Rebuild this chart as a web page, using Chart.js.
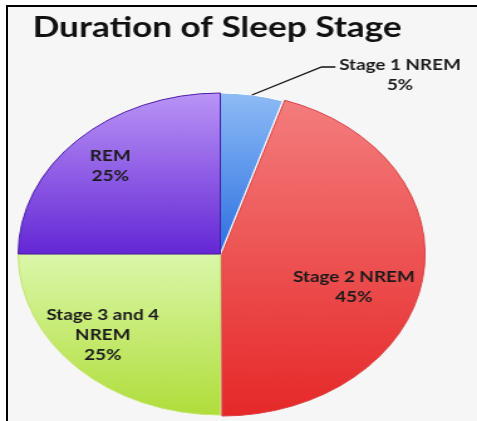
<!DOCTYPE html>
<html><head><meta charset="utf-8">
<script src="https://cdn.jsdelivr.net/npm/chart.js@4/dist/chart.umd.min.js"></script>
<style>
html,body{margin:0;padding:0;background:#fff;width:477px;height:421px;overflow:hidden;}
#frame{position:absolute;left:6px;top:5px;width:471px;height:416px;border-left:2px solid #000;border-top:2px solid #000;background:#f6f6f6;box-sizing:border-box;}
#c{position:absolute;left:0;top:0;width:477px !important;height:421px !important;}
</style></head><body>
<div id="frame"></div>
<canvas id="c" width="380" height="421" style="width:477px;height:421px"></canvas>
<script>
// ---- data ----
const chartTitle = 'Duration of Sleep Stage';
const categories = ['Stage 1 NREM', 'Stage 2 NREM', 'Stage 3 and 4 NREM', 'REM'];
const labelLines = [['Stage 1 NREM'], ['Stage 2 NREM'], ['Stage 3 and 4', 'NREM'], ['REM']];
const percentages = [5, 45, 25, 25];

// ---- style ----
const topColors = ['#8dbbf5', '#f47c7c', '#dbf7aa', '#ba94f6'];
const bottomColors = ['#2b6fe0', '#e62828', '#b0dd3a', '#6327d5'];
const borderColors = ['#ffffff', '#d84040', '#c0e46a', '#4a1aa8'];
const gradSpan = [[0, 0.5], [0.03, 1], [0.5, 1], [0, 0.5]];
const sliceOffsets = [0, 5, 0, 0];
const pieRadius = 161;
const labelRadius = 0.77;
const labelShift = [[0, 0], [-21, 13], [-6, -7], [0, 0]];
const lineGap = 20;

function sliceFill(c) {
  const chart = c.chart;
  const a = chart.chartArea;
  const i = c.dataIndex;
  if (!a || i === undefined) return topColors[i || 0];
  const cy = (a.top + a.bottom) / 2;
  const y0 = cy - pieRadius, y1 = cy + pieRadius;
  const g = chart.ctx.createLinearGradient(0, y0, 0, y1);
  g.addColorStop(gradSpan[i][0], topColors[i]);
  g.addColorStop(gradSpan[i][1], bottomColors[i]);
  return g;
}

const labelPlugin = {
  id: 'sliceLabels',
  afterDatasetsDraw(chart) {
    const ctx = chart.ctx;
    const meta = chart.getDatasetMeta(0);
    ctx.save();
    ctx.font = 'bold 15px Lato';
    ctx.fillStyle = '#1a1a1a';
    ctx.textBaseline = 'middle';
    meta.data.forEach((arc, i) => {
      const p = arc.getProps(['x', 'y', 'startAngle', 'endAngle', 'outerRadius'], true);
      const mid = (p.startAngle + p.endAngle) / 2;
      const lines = labelLines[i].concat([percentages[i] + '%']);
      ctx.textAlign = 'center';
      if (i === 0) {
        const sx = p.x + Math.cos(mid) * p.outerRadius;
        const sy = p.y + Math.sin(mid) * p.outerRadius;
        const ex = sx + 55.5, ey = sy - 28;
        const fx = ex + 11;
        ctx.strokeStyle = '#111';
        ctx.lineWidth = 1.3;
        ctx.beginPath();
        ctx.moveTo(sx, sy); ctx.lineTo(ex, ey); ctx.lineTo(fx, ey);
        ctx.stroke();
        const w = Math.max(...lines.map(t => ctx.measureText(t).width));
        const cx = fx + 3 + w / 2;
        lines.forEach((t, k) => ctx.fillText(t, cx, ey - 2 + k * lineGap));
      } else {
        const r = p.outerRadius * labelRadius + sliceOffsets[i];
        const cx = p.x + Math.cos(mid) * r + labelShift[i][0];
        const cy = p.y + Math.sin(mid) * r + labelShift[i][1];
        const y0 = cy - (lines.length - 1) * lineGap / 2;
        lines.forEach((t, k) => ctx.fillText(t, cx, y0 + k * lineGap));
      }
    });
    ctx.restore();
  }
};

new Chart(document.getElementById('c'), {
  type: 'pie',
  data: {
    labels: categories,
    datasets: [{
      data: percentages,
      backgroundColor: sliceFill,
      borderColor: borderColors,
      borderWidth: 1,
      offset: sliceOffsets,
      radius: pieRadius,
      clip: false
    }]
  },
  options: {
    responsive: false,
    animation: false,
    events: [],
    layout: { padding: { left: 26, right: 55, top: 0, bottom: 0 } },
    plugins: {
      legend: { display: false },
      tooltip: { enabled: false },
      title: {
        display: true,
        text: chartTitle,
        align: 'start',
        color: '#111',
        font: { family: 'Lato', weight: 'bold', size: 28, lineHeight: 1.2 },
        padding: { top: 11, bottom: 42.4 }
      }
    }
  },
  plugins: [labelPlugin]
});
</script>
</body></html>
